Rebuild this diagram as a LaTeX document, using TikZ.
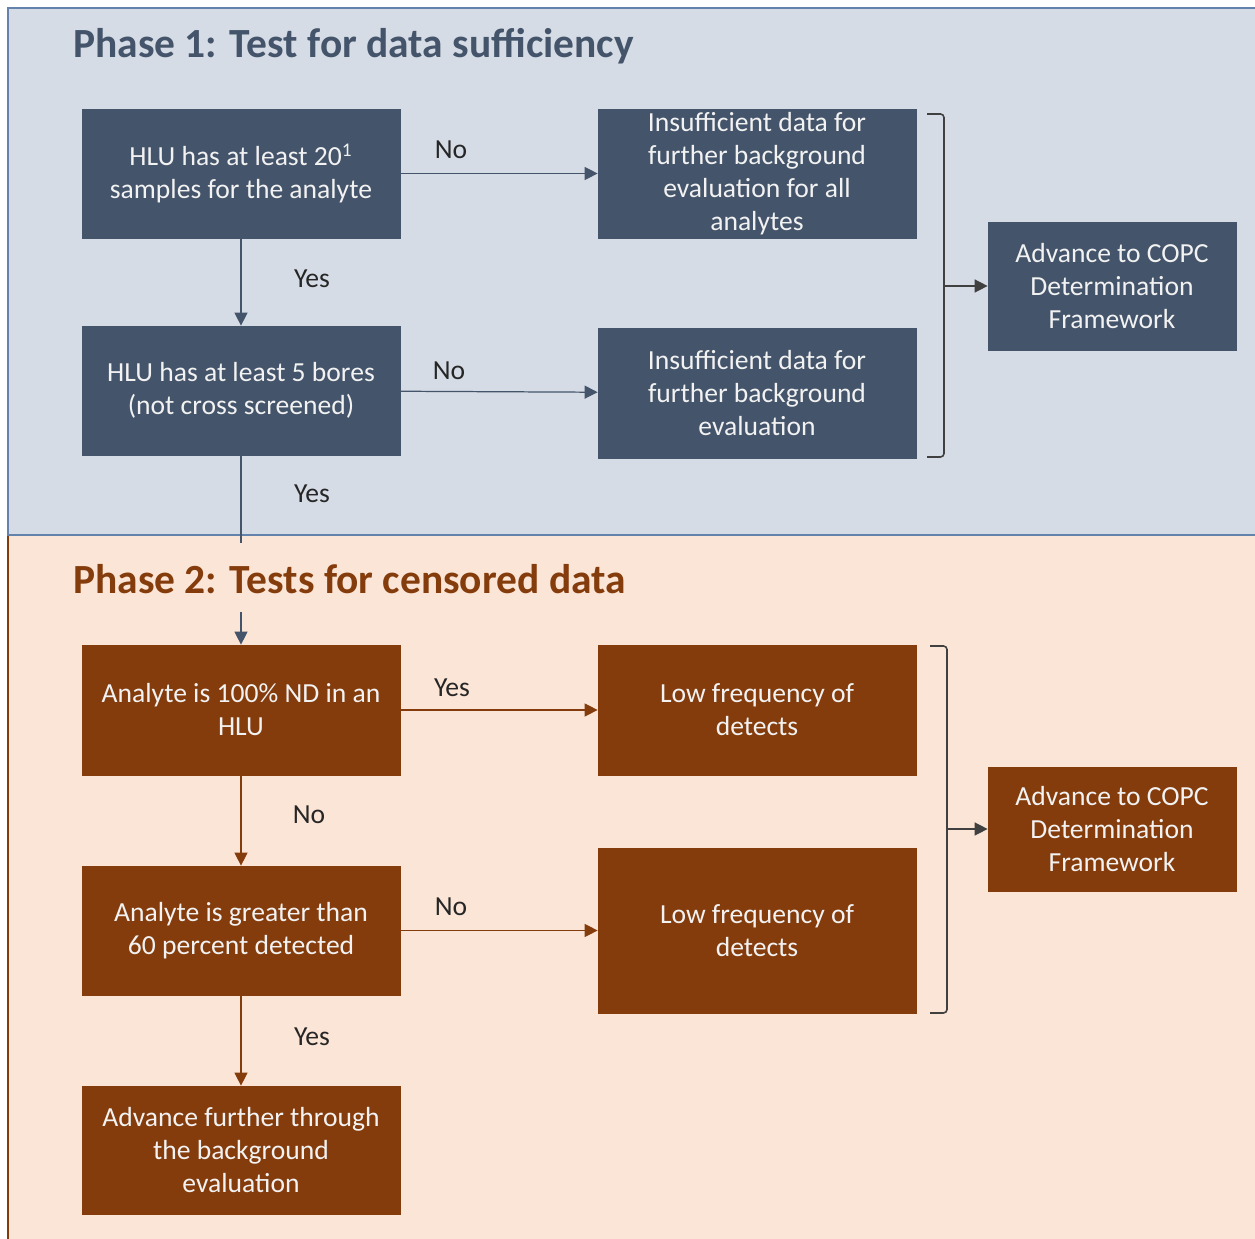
\documentclass[tikz,border=0pt]{standalone}
\usepackage{fontspec}
\setmainfont{Carlito}
\usepackage{xcolor}
\usepackage{tikz}
\usetikzlibrary{arrows.meta,shapes}
\definecolor{slate}{HTML}{44546A}
\definecolor{paleslate}{HTML}{D6DCE5}
\definecolor{panelline}{HTML}{6383AD}
\definecolor{rust}{HTML}{843C0C}
\definecolor{palerust}{HTML}{FBE5D6}
\definecolor{boxtext}{HTML}{F2F2F2}
\definecolor{bracketgray}{HTML}{404040}
\tikzstyle{none}=[inner sep=0pt]
\tikzstyle{bluebox}=[rectangle,fill=slate,draw=slate,text=boxtext,align=center,inner sep=0pt,minimum width=6.36cm,minimum height=2.58cm,font=\fontsize{15.7}{18.8}\selectfont]
\tikzstyle{brownbox}=[bluebox,fill=rust,draw=rust]
\tikzstyle{answer}=[inner sep=0pt,text=black!85,font=\fontsize{15.7}{18.8}\selectfont]
\tikzstyle{title}=[inner sep=0pt,anchor=west,font=\fontsize{23.6}{28}\selectfont\bfseries]
\tikzstyle{bluearrow}=[-{Triangle[length=2.6mm,width=2.6mm]},draw=slate,line width=0.7pt]
\tikzstyle{brownarrow}=[-{Triangle[length=2.6mm,width=2.6mm]},draw=rust,line width=0.7pt]
\tikzstyle{grayarrow}=[-{Triangle[length=2.6mm,width=2.6mm]},draw=bracketgray,line width=0.8pt]
\tikzstyle{bracket}=[-,draw=bracketgray,line width=0.9pt,rounded corners=2pt]
\pgfdeclarelayer{panellayer}
\pgfdeclarelayer{edgelayer}
\pgfdeclarelayer{nodelayer}
\pgfsetlayers{panellayer,edgelayer,nodelayer,main}
\begin{document}
\begin{tikzpicture}
	\useasboundingbox (0,0) rectangle (25.1,-24.78);
	\begin{pgfonlayer}{panellayer}
		\fill [palerust] (0.16,-10.7) rectangle (25.6,-25.2);
		\draw [rust, line width=0.9pt] (0.16,-10.7) to (0.16,-25.2);
		\filldraw [fill=paleslate, draw=panelline, line width=0.9pt] (0.16,-0.16) rectangle (25.6,-10.7);
	\end{pgfonlayer}
	\begin{pgfonlayer}{nodelayer}
		\node [style=title, text=slate] (phase1) at (1.46, -0.92) {Phase 1: Test for data sufficiency};
		\node [style=bluebox] (q1) at (4.82, -3.47) {HLU has at least 20\textsuperscript{1}\\samples for the analyte};
		\node [style=bluebox] (r1) at (15.14, -3.47) {Insufficient data for\\further background\\evaluation for all\\analytes};
		\node [style=bluebox] (q2) at (4.82, -7.81) {HLU has at least 5 bores\\(not cross screened)};
		\node [style=bluebox, minimum height=2.6cm] (r2) at (15.14, -7.86) {Insufficient data for\\further background\\evaluation};
		\node [style=bluebox, minimum width=4.96cm, minimum height=2.56cm] (c1) at (22.24, -5.72) {Advance to COPC\\Determination\\Framework};
		\node [style=answer] at (9.02, -3.0) {No};
		\node [style=answer] at (6.24, -5.58) {Yes};
		\node [style=answer] at (8.98, -7.42) {No};
		\node [style=answer] at (6.24, -9.88) {Yes};
		\node [style=none] (ATT) at (18.54, -2.28) {};
		\node [style=none] (ATR) at (18.88, -2.28) {};
		\node [style=none] (ABR) at (18.88, -9.14) {};
		\node [style=none] (ABB) at (18.54, -9.14) {};
		\node [style=none] (AM) at (18.88, -5.72) {};
		\node [style=none] (yesend) at (4.82, -10.86) {};
		\node [style=title, text=rust] (phase2) at (1.46, -11.58) {Phase 2: Tests for censored data};
		\node [style=none] (p2top) at (4.82, -12.24) {};
		\node [style=brownbox, minimum height=2.6cm] (t1) at (4.82, -14.2) {Analyte is 100\% ND in an\\HLU};
		\node [style=brownbox, minimum height=2.6cm] (l1) at (15.14, -14.2) {Low frequency of\\detects};
		\node [style=brownbox] (t2) at (4.82, -18.61) {Analyte is greater than\\60 percent detected};
		\node [style=brownbox, minimum height=3.3cm] (l2) at (15.14, -18.61) {Low frequency of\\detects};
		\node [style=brownbox, minimum height=2.56cm] (adv) at (4.82, -23.0) {Advance further through\\the background\\evaluation};
		\node [style=brownbox, minimum width=4.96cm, minimum height=2.48cm] (c2) at (22.24, -16.58) {Advance to COPC\\Determination\\Framework};
		\node [style=answer] at (9.04, -13.76) {Yes};
		\node [style=answer] at (6.18, -16.3) {No};
		\node [style=answer] at (9.02, -18.14) {No};
		\node [style=answer] at (6.24, -20.74) {Yes};
		\node [style=none] (BTT) at (18.6, -12.92) {};
		\node [style=none] (BTR) at (18.94, -12.92) {};
		\node [style=none] (BBR) at (18.94, -20.26) {};
		\node [style=none] (BBB) at (18.6, -20.26) {};
		\node [style=none] (BM) at (18.94, -16.58) {};
	\end{pgfonlayer}
	\begin{pgfonlayer}{edgelayer}
		\draw [style=bluearrow] (q1) to (r1);
		\draw [style=bluearrow] (q1) to (q2);
		\draw [style=bluearrow] (q2) to (r2);
		\draw [style=bluearrow, -] (q2) to (yesend.center);
		\draw [style=bracket] (ATT.center) -- (ATR.center) -- (ABR.center) -- (ABB.center);
		\draw [style=grayarrow] (AM.center) to (c1);
		\draw [style=bluearrow] (p2top.center) to (t1);
		\draw [style=brownarrow] (t1) to (l1);
		\draw [style=brownarrow] (t1) to (t2);
		\draw [style=brownarrow] (t2) to (l2);
		\draw [style=brownarrow] (t2) to (adv);
		\draw [style=bracket] (BTT.center) -- (BTR.center) -- (BBR.center) -- (BBB.center);
		\draw [style=grayarrow] (BM.center) to (c2);
	\end{pgfonlayer}
\end{tikzpicture}
\end{document}
